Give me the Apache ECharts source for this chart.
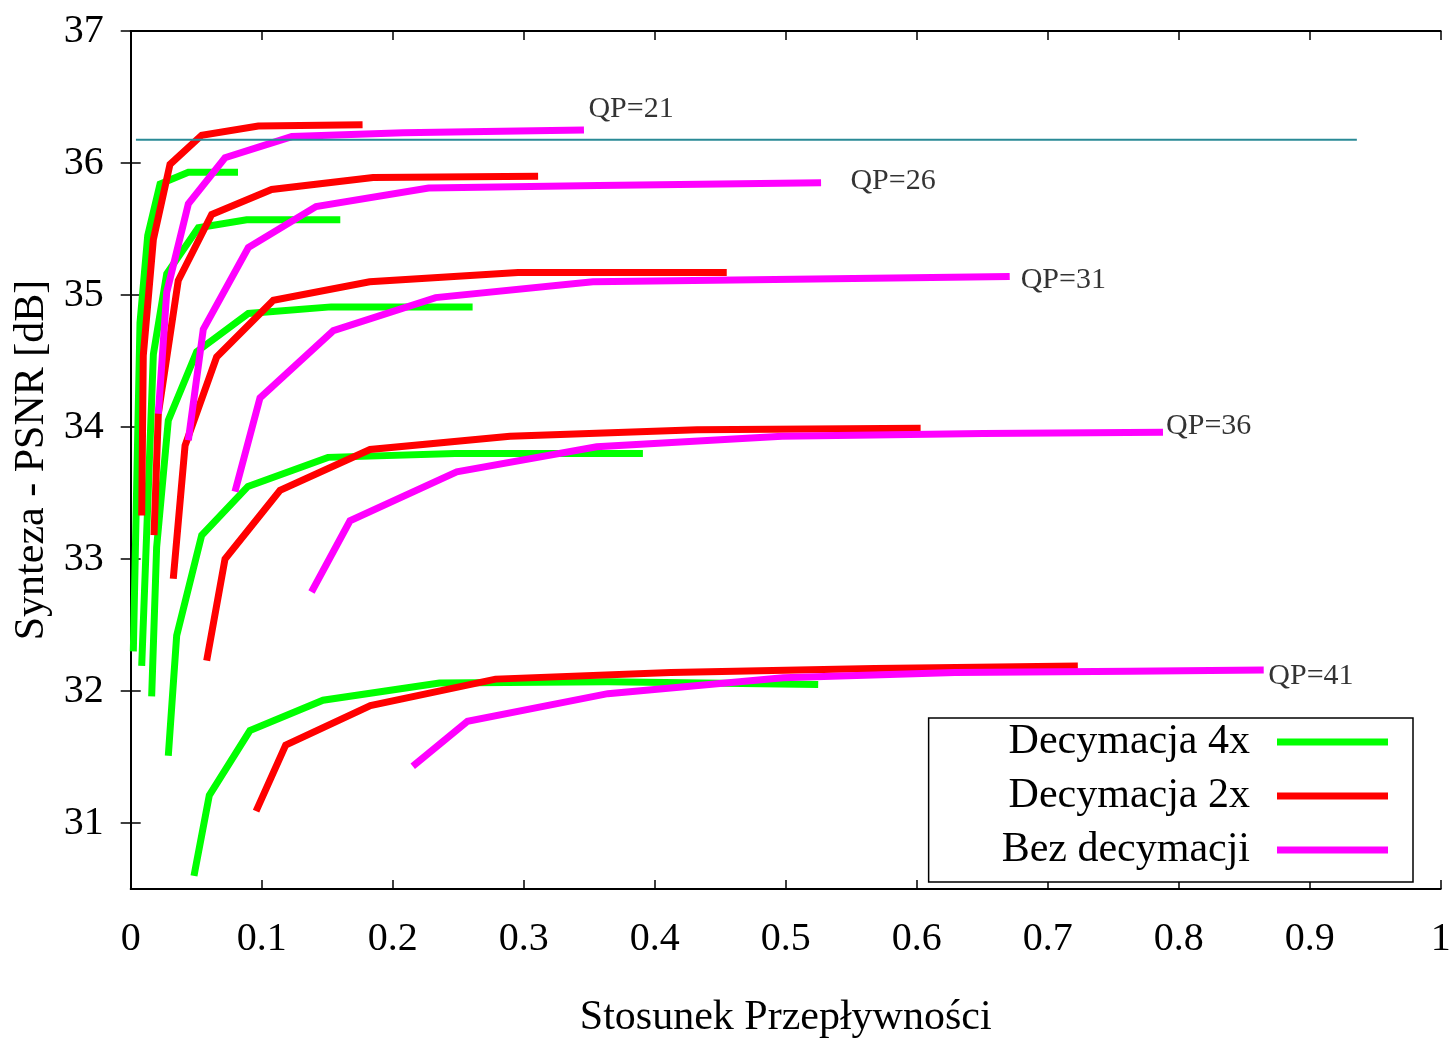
<!DOCTYPE html>
<html>
<head>
<meta charset="utf-8">
<script src="https://cdn.jsdelivr.net/npm/echarts@6/dist/echarts.min.js"></script>
<style>
  html, body { margin: 0; padding: 0; background: #fff; }
  #chart { width: 1456px; height: 1042px; }
</style>
</head>
<body>
<div id="chart"></div>
<script>
// values: [bitrate ratio, PSNR]
var dec4_qp21 = [[0.002,32.30],[0.0071,34.79],[0.013,35.45],[0.0224,35.84],[0.044,35.93],[0.0819,35.93]];
var dec4_qp26 = [[0.0084,32.19],[0.0173,34.55],[0.0275,35.16],[0.0516,35.51],[0.0885,35.57],[0.160,35.57]];
var dec4_qp31 = [[0.016,31.96],[0.0198,33.09],[0.0287,34.05],[0.0504,34.57],[0.0898,34.86],[0.153,34.91],[0.261,34.91]];
var dec4_qp36 = [[0.0287,31.51],[0.0351,32.42],[0.0542,33.18],[0.0895,33.55],[0.1506,33.77],[0.2476,33.80],[0.391,33.80]];
var dec4_qp41 = [[0.0483,30.60],[0.060,31.21],[0.091,31.70],[0.1468,31.93],[0.2357,32.06],[0.3642,32.07],[0.5248,32.05]];

var dec2_qp21 = [[0.0084,33.33],[0.0096,34.54],[0.0173,35.42],[0.030,35.99],[0.0542,36.21],[0.0974,36.28],[0.177,36.29]];
var dec2_qp26 = [[0.0178,33.18],[0.0211,34.10],[0.0363,35.11],[0.0618,35.61],[0.1076,35.80],[0.185,35.89],[0.311,35.90]];
var dec2_qp31 = [[0.0325,32.85],[0.0415,33.86],[0.0656,34.53],[0.1089,34.96],[0.1824,35.10],[0.2957,35.17],[0.455,35.17]];
var dec2_qp36 = [[0.058,32.23],[0.072,33.00],[0.114,33.52],[0.1827,33.83],[0.2895,33.93],[0.4323,33.98],[0.603,33.99]];
var dec2_qp41 = [[0.0957,31.09],[0.1183,31.59],[0.183,31.89],[0.2785,32.09],[0.4124,32.14],[0.5676,32.17],[0.723,32.19]];

var full_qp21 = [[0.0211,34.10],[0.0275,35.02],[0.044,35.69],[0.072,36.04],[0.123,36.20],[0.208,36.23],[0.346,36.25]];
var full_qp26 = [[0.044,33.90],[0.0554,34.74],[0.0898,35.36],[0.1415,35.67],[0.2274,35.81],[0.357,35.83],[0.527,35.85]];
var full_qp31 = [[0.0796,33.51],[0.0987,34.22],[0.1547,34.73],[0.2328,34.98],[0.3528,35.10],[0.5068,35.12],[0.671,35.14]];
var full_qp36 = [[0.138,32.75],[0.1674,33.29],[0.2489,33.66],[0.3557,33.85],[0.4972,33.93],[0.6506,33.95],[0.788,33.96]];
var full_qp41 = [[0.2153,31.43],[0.2571,31.77],[0.3642,31.98],[0.498,32.10],[0.6292,32.14],[0.7629,32.15],[0.8649,32.16]];

// horizontal reference line
var refLine = [[0.004,36.177],[0.936,36.177]];

// QP labels
var qpLabels = [[0.349,36.41,'QP=21'],[0.549,35.86,'QP=26'],[0.679,35.11,'QP=31'],[0.790,34.01,'QP=36'],[0.868,32.11,'QP=41']];

var yTicks = [31,32,33,34,35,36,37];
var names = ['Decymacja 4x','Decymacja 2x','Bez decymacji'];

var FONT = '"Liberation Serif", "DejaVu Serif", serif';

var chart = echarts.init(document.getElementById('chart'));

function lineSeries(name, color, data) {
  return {
    name: name,
    type: 'line',
    data: data,
    symbol: 'none',
    showSymbol: false,
    silent: true,
    itemStyle: { color: color },
    lineStyle: { color: color, width: 7, cap: 'butt', join: 'miter' }
  };
}

var series = [];
[dec4_qp21, dec4_qp26, dec4_qp31, dec4_qp36, dec4_qp41].forEach(function (d) {
  series.push(lineSeries(names[0], '#00ff00', d));
});
[dec2_qp21, dec2_qp26, dec2_qp31, dec2_qp36, dec2_qp41].forEach(function (d) {
  series.push(lineSeries(names[1], '#ff0000', d));
});
[full_qp21, full_qp26, full_qp31, full_qp36, full_qp41].forEach(function (d) {
  series.push(lineSeries(names[2], '#ff00ff', d));
});

series.push({
  name: 'ref',
  type: 'line',
  data: refLine,
  symbol: 'none',
  silent: true,
  lineStyle: { color: '#2a8a96', width: 2 },
  z: 5
});

series.push({
  name: 'labels',
  type: 'scatter',
  data: qpLabels,
  symbolSize: 1,
  silent: true,
  itemStyle: { color: 'rgba(0,0,0,0)' },
  label: {
    show: true,
    position: 'right',
    distance: 0,
    formatter: function (p) { return p.value[2]; },
    color: '#000',
    fontFamily: FONT,
    fontSize: 30
  }
});

var axisLineStyle = { lineStyle: { color: '#000', width: 2 } };

var option = {
  backgroundColor: '#fff',
  animation: false,
  grid: { left: 130.7, right: 15.3, top: 31, bottom: 153, containLabel: false, outerBoundsMode: 'none' },
  legend: {
    data: names,
    orient: 'vertical',
    right: 43,
    top: 718,
    align: 'right',
    icon: 'rect',
    itemWidth: 111,
    itemHeight: 7,
    itemGap: 10,
    padding: [2, 25, 10, 73],
    borderColor: '#000',
    borderWidth: 1.5,
    backgroundColor: '#fff',
    textStyle: {
      fontFamily: FONT,
      fontSize: 42,
      lineHeight: 44,
      color: '#000',
      padding: [0, 22, 0, 0]
    }
  },
  xAxis: [{
    type: 'value',
    min: 0,
    max: 1,
    interval: 0.1,
    position: 'bottom',
    name: 'Stosunek Przepływności',
    nameLocation: 'middle',
    nameGap: 108,
    nameTextStyle: { fontFamily: FONT, fontSize: 42, color: '#000' },
    axisLine: axisLineStyle,
    axisTick: { inside: true, length: 9, lineStyle: { color: '#000', width: 1.5 } },
    axisLabel: { fontFamily: FONT, fontSize: 40, color: '#000', margin: 30 },
    splitLine: { show: false }
  }, {
    type: 'value',
    min: 0,
    max: 1,
    interval: 0.1,
    position: 'top',
    axisLine: axisLineStyle,
    axisTick: { inside: true, length: 9, lineStyle: { color: '#000', width: 1.5 } },
    axisLabel: { show: false },
    splitLine: { show: false }
  }],
  yAxis: [{
    type: 'value',
    min: 30.5,
    max: 37,
    position: 'left',
    name: 'Synteza - PSNR [dB]',
    nameLocation: 'middle',
    nameGap: 73,
    nameTextStyle: { fontFamily: FONT, fontSize: 42, color: '#000' },
    axisLine: axisLineStyle,
    axisTick: { inside: true, length: 10, customValues: yTicks, lineStyle: { color: '#000', width: 1.5 } },
    axisLabel: { fontFamily: FONT, fontSize: 40, color: '#000', margin: 27, customValues: yTicks },
    splitLine: { show: false }
  }, {
    type: 'value',
    min: 30.5,
    max: 37,
    position: 'right',
    axisLine: axisLineStyle,
    axisTick: { inside: true, length: 10, customValues: yTicks, lineStyle: { color: '#000', width: 1.5 } },
    axisLabel: { show: false },
    splitLine: { show: false }
  }],
  series: series
};

chart.setOption(option);
</script>
</body>
</html>
